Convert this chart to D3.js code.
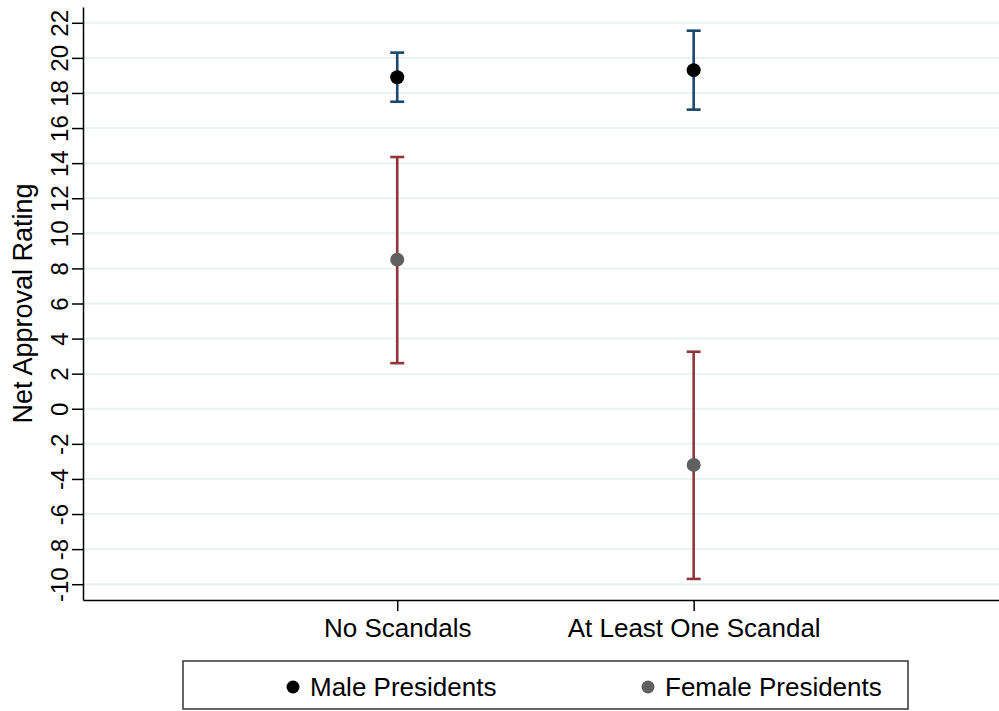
<!DOCTYPE html>
<meta charset="utf-8">
<style>
body { margin: 0; background: #fff; }
svg { display: block; font-family: "Liberation Sans", Arial, Helvetica, sans-serif; }
.grid line { stroke: #eaf2f3; stroke-width: 2px; }
.axis path, .axis line { stroke: #000; stroke-width: 1.5px; }
.axis text { fill: #000; }
</style>
<svg width="999" height="711"></svg>
<script src="https://cdn.jsdelivr.net/npm/d3@7"></script>
<script>
// values
var categories = ["No Scandals", "At Least One Scandal"];
var catPos = [1, 2];
var maleEst = [18.9, 19.3],
    maleLo = [17.5, 17.05],
    maleHi = [20.3, 21.55];
var femaleEst = [8.5, -3.2],
    femaleLo = [2.6, -9.7],
    femaleHi = [14.35, 3.25];
var yTicks = [-10, -8, -6, -4, -2, 0, 2, 4, 6, 8, 10, 12, 14, 16, 18, 20, 22];
var seriesNames = ["Male Presidents", "Female Presidents"];

var svg = d3.select("svg"),
    pLeft = 83, pRight = 999, pTop = 7, pBottom = 600;

var x = d3.scaleLinear().domain([-0.06, 3.03]).range([pLeft, pRight]),
    y = d3.scaleLinear().domain([-10.9, 22.9]).range([pBottom, pTop]);

// grid
svg.append("g").attr("class", "grid")
  .selectAll("line").data(yTicks).enter().append("line")
    .attr("x1", pLeft).attr("x2", pRight)
    .attr("y1", function(d) { return y(d); })
    .attr("y2", function(d) { return y(d); });

// y axis
var yaxis = svg.append("g")
  .attr("class", "axis")
  .attr("transform", "translate(" + pLeft + ",0)")
  .call(d3.axisLeft(y).tickValues(yTicks).tickSize(11).tickSizeOuter(0)
    .tickFormat(function(d) { return String(d); }));
yaxis.attr("font-family", null).attr("font-size", null);
yaxis.selectAll("text")
  .attr("x", 0).attr("dy", 0)
  .attr("text-anchor", "middle")
  .attr("transform", "translate(-15,0) rotate(-90)")
  .style("font-size", "24px");

svg.append("text")
  .attr("transform", "translate(32," + ((pTop + pBottom) / 2) + ") rotate(-90)")
  .attr("text-anchor", "middle")
  .style("font-size", "27px")
  .text("Net Approval Rating");

// x axis
var xaxis = svg.append("g")
  .attr("class", "axis")
  .attr("transform", "translate(0," + pBottom + ")")
  .call(d3.axisBottom(x).tickValues(catPos)
    .tickFormat(function(d, i) { return categories[i]; })
    .tickSize(11).tickSizeOuter(0));
xaxis.attr("font-family", null).attr("font-size", null);
xaxis.selectAll("text")
  .attr("y", 37).attr("dy", 0)
  .style("font-size", "26px");

// error bars
function drawSeries(est, lo, hi, barColor, dotColor) {
  var g = svg.append("g");
  var data = catPos.map(function(c, i) { return {c: c, est: est[i], lo: lo[i], hi: hi[i]}; });
  var cap = 7;
  g.selectAll(".stem").data(data).enter().append("line")
    .attr("x1", function(d) { return x(d.c); }).attr("x2", function(d) { return x(d.c); })
    .attr("y1", function(d) { return y(d.lo); }).attr("y2", function(d) { return y(d.hi); })
    .attr("stroke", barColor).attr("stroke-width", 2.6);
  ["lo", "hi"].forEach(function(k) {
    g.selectAll(".cap" + k).data(data).enter().append("line")
      .attr("x1", function(d) { return x(d.c) - cap; }).attr("x2", function(d) { return x(d.c) + cap; })
      .attr("y1", function(d) { return y(d[k]); }).attr("y2", function(d) { return y(d[k]); })
      .attr("stroke", barColor).attr("stroke-width", 2.6);
  });
  g.selectAll("circle").data(data).enter().append("circle")
    .attr("cx", function(d) { return x(d.c); })
    .attr("cy", function(d) { return y(d.est); })
    .attr("r", 7)
    .attr("fill", dotColor);
}
drawSeries(maleEst, maleLo, maleHi, "#1a476f", "#000");
drawSeries(femaleEst, femaleLo, femaleHi, "#90353b", "#606060");

// legend
var legend = svg.append("g");
legend.append("rect")
  .attr("x", 183).attr("y", 661).attr("width", 725).attr("height", 48)
  .attr("fill", "#fff").attr("stroke", "#333").attr("stroke-width", 1.5);
var legX = [293, 648], legColors = ["#000", "#606060"];
seriesNames.forEach(function(name, i) {
  legend.append("circle").attr("cx", legX[i]).attr("cy", 687).attr("r", 6.5).attr("fill", legColors[i]);
  legend.append("text").attr("x", legX[i] + 17).attr("y", 696)
    .style("font-size", "26px").text(name);
});
</script>
